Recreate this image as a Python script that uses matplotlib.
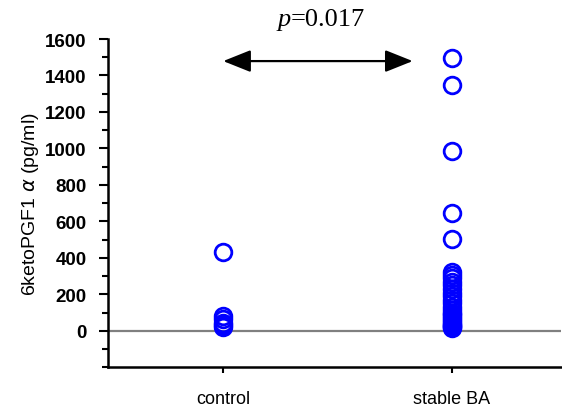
import matplotlib
matplotlib.use("Agg")
import matplotlib.pyplot as plt
from matplotlib.ticker import MultipleLocator

groups = ["control", "stable BA"]
control_vals = [430, 80, 65, 45, 30, 20]
stable_vals = [1495, 1350, 985, 648, 505, 320, 305, 290, 270, 250, 230, 210, 190,
               170, 150, 130, 115, 100, 90, 80, 70, 60, 50, 40, 30, 25, 20, 15]
yticks = [0, 200, 400, 600, 800, 1000, 1200, 1400, 1600]
p_label = "=0.017"

fig = plt.figure(figsize=(5.62, 4.10), dpi=100)
ax = fig.add_axes([0.192, 0.1017, 0.806, 0.8007])

ax.plot([1] * len(control_vals), control_vals, 'o', ms=12, mfc='none', mec='#0000FF', mew=2, clip_on=False, zorder=3)
ax.plot([2] * len(stable_vals), stable_vals, 'o', ms=12, mfc='none', mec='#0000FF', mew=2, clip_on=False, zorder=3)

ax.axhline(0, color='#808080', lw=1.6, zorder=1)

ax.set_xlim(0.495, 2.479)
ax.set_ylim(-200, 1600)
ax.set_xticks([1, 2])
ax.set_xticklabels(groups, fontsize=13, family='Liberation Sans')
ax.set_yticks(yticks)
ax.set_yticklabels([str(t) for t in yticks], fontsize=13.5, fontweight='bold', family='Liberation Sans')
ax.yaxis.set_minor_locator(MultipleLocator(100))

for s in ['top', 'right']:
    ax.spines[s].set_visible(False)
for s in ['left', 'bottom']:
    ax.spines[s].set_linewidth(1.8)

ax.tick_params(axis='y', which='major', length=6.5, width=1.5, pad=9)
ax.tick_params(axis='y', which='minor', length=4.5, width=1.5)
ax.tick_params(axis='x', which='major', length=4, width=1.5, pad=12)

ax.set_ylabel("6ketoPGF1 $\\alpha$ (pg/ml)", fontsize=14, family='Liberation Sans', labelpad=3)

ax.annotate('', xy=(1.0, 1479), xytext=(1.83, 1479),
            arrowprops=dict(arrowstyle='<|-|>,head_length=1.0,head_width=0.4', color='black', lw=1.6,
                            shrinkA=0, shrinkB=0, mutation_scale=17))

fig.text(0.518, 0.952, "p", fontsize=19, family='Liberation Serif', style='italic', ha='right', va='center')
fig.text(0.518, 0.952, p_label, fontsize=19, family='Liberation Serif', ha='left', va='center')

fig.savefig("out.png", dpi=100)
